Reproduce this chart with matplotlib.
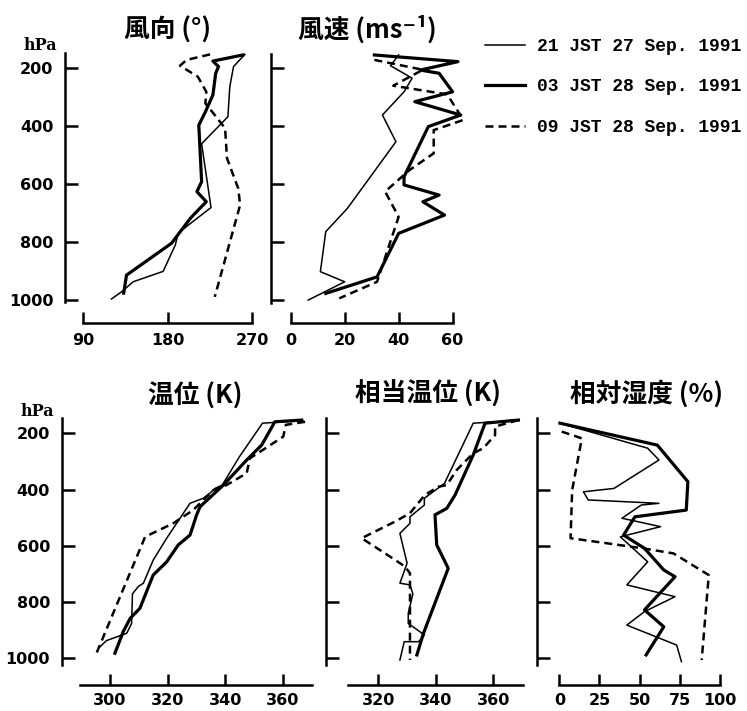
import matplotlib
matplotlib.use("Agg")
import matplotlib.pyplot as plt

W, H = 747, 711

# labels
series_labels = ["21 JST 27 Sep. 1991", "03 JST 28 Sep. 1991", "09 JST 28 Sep. 1991"]
titles = ["風向 (°)", "風速 (ms⁻¹)", "温位 (K)", "相当温位 (K)", "相対湿度 (%)"]
p_ticks = [200, 400, 600, 800, 1000]

# wind direction (deg)
wd21_p = [152, 194, 263, 367, 460, 680, 740, 769, 809, 900, 936, 970, 995]
wd21_v = [262, 250, 246, 244, 216, 226, 202, 191, 188, 175, 143, 131, 120]
wd03_p = [154, 175, 194, 217, 292, 350, 396, 591, 625, 660, 683, 717, 803, 913, 975]
wd03_v = [260, 228, 234, 231, 228, 220, 213, 216, 211, 221, 214, 204, 184, 136, 133]
wd09_p = [152, 171, 191, 229, 281, 321, 361, 407, 510, 614, 671, 988]
wd09_v = [225, 200, 193, 212, 221, 220, 230, 241, 243, 255, 257, 230]

# wind speed (m/s)
ws21_p = [154, 191, 234, 281, 361, 453, 683, 763, 901, 936, 999]
ws21_v = [40, 37, 45, 42, 34, 39, 21, 13, 11, 20, 6.5]
ws03_p = [154, 177, 206, 217, 281, 315, 361, 401, 574, 602, 637, 660, 706, 769, 919, 976]
ws03_v = [31, 62, 48, 55, 60, 46, 63, 51, 42, 42, 55, 49, 57, 40, 32, 13]
ws09_p = [171, 205, 240, 260, 290, 378, 413, 493, 551, 625, 712, 936, 993]
ws09_v = [31, 49, 42, 38, 58, 64, 53, 53, 44, 35, 40, 32, 18]

# potential temperature (K)
th21_p = [155, 164, 283, 384, 396, 413, 431, 449, 573, 651, 733, 745, 771, 876, 911, 937, 959]
th21_v = [367, 353, 345, 339, 336.5, 334.7, 332.4, 327.8, 319.7, 315, 311.6, 309.8, 307.8, 307.5, 305.8, 298.8, 296.5]
th03_p = [153, 159, 242, 295, 384, 461, 490, 562, 597, 657, 704, 822, 858, 905, 982]
th03_v = [366.6, 357.3, 352.7, 347.5, 339.4, 331.3, 330.1, 327.8, 323.7, 319.7, 315, 310.4, 307, 304.6, 301.7]
th09_p = [159, 170, 212, 289, 342, 384, 402, 473, 520, 568, 994]
th09_v = [367.8, 361.1, 360.2, 348.6, 347.5, 340.5, 335.9, 328.9, 322, 312.2, 294.8]

# equivalent potential temperature (K)
te21_p = [153, 159, 164, 378, 401, 431, 455, 497, 520, 556, 662, 733, 739, 771, 840, 876, 917, 941, 941, 1006]
te21_v = [367, 361, 353, 343, 340, 336, 336, 331, 331, 327.5, 330, 327.5, 331, 332, 330.4, 330.4, 336, 334, 329, 327.5]
te03_p = [153, 164, 277, 419, 467, 490, 597, 680, 911, 988]
te03_v = [368.7, 357.1, 353, 346.7, 343.8, 339.7, 340.3, 344.3, 335.7, 333.4]
te09_p = [153, 176, 206, 253, 271, 330, 384, 390, 419, 484, 514, 573, 650, 674, 698, 1006]
te09_v = [368.7, 360.6, 360.6, 356.5, 353, 347.3, 343.8, 340.9, 336.2, 331, 325.8, 314.2, 325.8, 329.3, 331, 331]

# relative humidity (%)
rh21_p = [164, 253, 295, 396, 408, 437, 449, 455, 502, 532, 568, 657, 739, 781, 834, 882, 953, 1012]
rh21_v = [0.4, 55, 62, 34, 15, 18, 62, 51, 39, 63, 38, 55, 42, 72, 53, 42, 73, 76]
rh03_p = [164, 242, 372, 473, 497, 562, 609, 686, 710, 828, 888, 988]
rh03_v = [0.4, 61, 80, 79, 47, 40, 53, 65, 72, 53, 65, 54]
rh09_p = [194, 218, 402, 573, 609, 627, 704, 1006]
rh09_v = [1.5, 14, 8, 7, 52, 71, 93, 88.6]

styles = [dict(color="black", lw=1.1),
          dict(color="black", lw=2.3),
          dict(color="black", lw=1.8, ls=(0, (3.2, 2.0)))]

cjk = ["Noto Sans CJK JP", "DejaVu Sans"]


def px_axes(l, r, t, b):
    return fig.add_axes([l / W, 1 - b / H, (r - l) / W, (b - t) / H])


fig = plt.figure(figsize=(W / 100, H / 100), dpi=100)

# l, r, t, b (px), xlim, ylim, x spine bounds, y spine bounds, xticks, show y labels
panels = [
    (65, 262, 53, 323, (70.5, 280.3), (1078, 147.2), (90, 270), (1007, 148), [90, 180, 270], True,
     [(wd21_v, wd21_p), (wd03_v, wd03_p), (wd09_v, wd09_p)], 10),
    (271, 465, 53, 323, (-7.3, 64.6), (1078, 147.2), (0, 60), (1009, 152), [0, 20, 40, 60], False,
     [(ws21_v, ws21_p), (ws03_v, ws03_p), (ws09_v, ws09_p)], 10),
    (61.7, 311.7, 418, 685, (283.2, 370.1), (1095, 145.6), (289.6, 370.1), (1024, 146), [300, 320, 340, 360], True,
     [(th21_v, th21_p), (th03_v, th03_p), (th09_v, th09_p)], 8),
    (326, 525, 418, 685, (301.8, 371.0), (1095, 145.6), (309.6, 370.4), (1024, 146), [320, 340, 360], False,
     [(te21_v, te21_p), (te03_v, te03_p), (te09_v, te09_p)], 8),
    (537.3, 725, 418, 685, (-13.7, 103.1), (1095, 145.6), (0, 100), (1024, 146), [0, 25, 50, 75, 100], False,
     [(rh21_v, rh21_p), (rh03_v, rh03_p), (rh09_v, rh09_p)], 8),
]

handles = []
for i, (l, r, t, b, xl, yl, xb, yb, xt, showy, data, xpad) in enumerate(panels):
    ax = px_axes(l, r, t, b)
    for (v, p), st in zip(data, styles):
        ln, = ax.plot(v, p, **st)
        if i == 0:
            handles.append(ln)
    ax.set_xlim(*xl)
    ax.set_ylim(*yl)
    ax.spines["top"].set_visible(False)
    ax.spines["right"].set_visible(False)
    ax.spines["left"].set_bounds(*yb)
    ax.spines["bottom"].set_bounds(*xb)
    for s in ("left", "bottom"):
        ax.spines[s].set_linewidth(1.8)
    ax.set_xticks(xt)
    ax.set_yticks(p_ticks)
    ax.tick_params(axis="y", direction="in", length=9, width=1.8, pad=8.5, labelleft=showy)
    ax.tick_params(axis="x", direction="in", length=8, width=1.8, pad=xpad * 0.72)
    for lab in ax.get_xticklabels() + ax.get_yticklabels():
        lab.set_fontweight("bold")
        lab.set_fontsize(11.5)
    ax.patch.set_visible(False)

# titles
title_pos = [(168, 30), (367, 30), (195, 396), (428, 394), (647, 394)]
for txt, (x, y) in zip(titles, title_pos):
    fig.text(x / W, 1 - y / H, txt, ha="center", va="center", fontsize=18.5,
             fontweight="bold", family=cjk)

fig.text(40 / W, 1 - 46 / H, "hPa", ha="center", va="center", fontsize=11.5,
         fontweight="bold", family="DejaVu Serif")
fig.text(37 / W, 1 - 412 / H, "hPa", ha="center", va="center", fontsize=11.5,
         fontweight="bold", family="DejaVu Serif")

fig.legend(handles, series_labels, loc="upper left",
           bbox_to_anchor=(485 / W, 1 - 38 / H), frameon=False,
           borderpad=0, borderaxespad=0, handlelength=2.2, handletextpad=0.7,
           labelspacing=1.3,
           prop=dict(family="Liberation Mono", weight="bold", size=13))

fig.savefig("out.png", dpi=100)
